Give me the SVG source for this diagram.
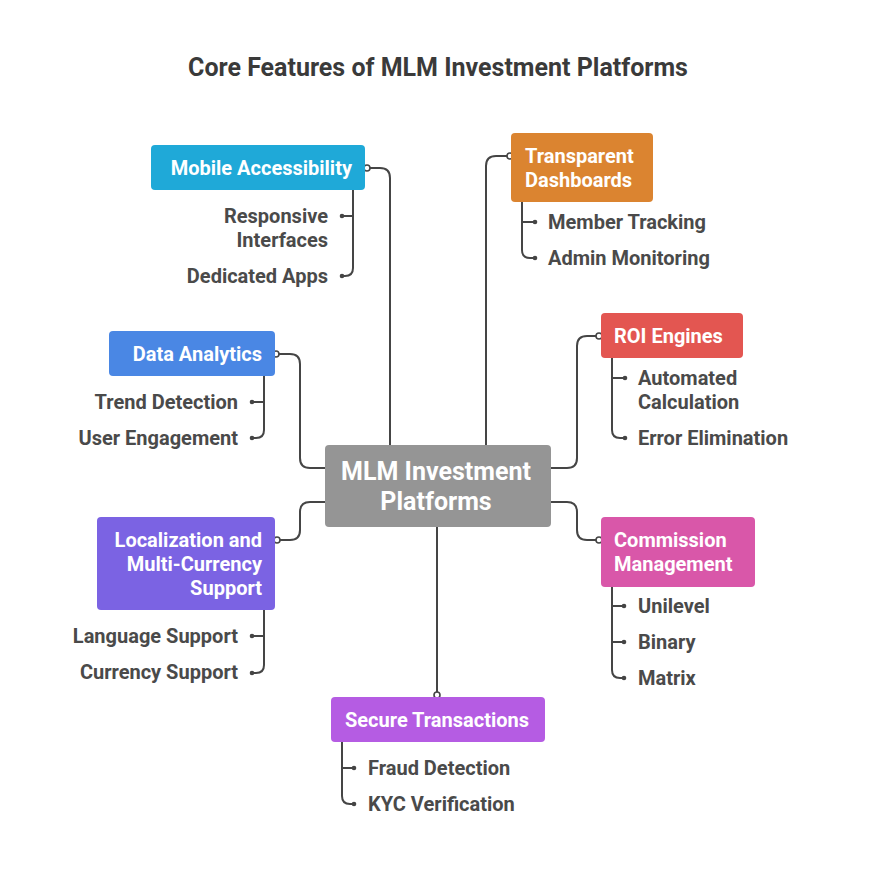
<svg xmlns="http://www.w3.org/2000/svg" width="876" height="894" viewBox="0 0 876 894">
<style>
.t{font-family:Roboto,"Liberation Sans",sans-serif;font-weight:700}
.title{font-size:25px;fill:#3a3a3a}
.nt{font-size:20px;fill:#ffffff}
.ct{font-size:25px;fill:#ffffff}
.ch{font-size:20px;fill:#4a4a4a}
.ln{fill:none;stroke:#454545;stroke-width:2}
.hd{fill:#ffffff;stroke:#454545;stroke-width:1.6}
.fd{fill:#454545}
</style>
<rect width="876" height="894" fill="#ffffff"/>
<text class="t title" x="438" y="76" text-anchor="middle">Core Features of MLM Investment Platforms</text>

<g id="connectors">
<path class="ln" d="M367,168 H380 Q390,168 390,178 V445"/>
<path class="ln" d="M510,156 H496 Q486,156 486,166 V445"/>
<path class="ln" d="M276,354 H290 Q300,354 300,364 V458 Q300,468 310,468 H325"/>
<path class="ln" d="M599,336 H587 Q577,336 577,346 V458 Q577,468 567,468 H551"/>
<path class="ln" d="M277,540 H290 Q300,540 300,530 V512 Q300,502 310,502 H325"/>
<path class="ln" d="M599,540 H587 Q577,540 577,530 V512 Q577,502 567,502 H551"/>
<path class="ln" d="M437,527 V695"/>
<circle class="hd" cx="367" cy="168" r="3"/>
<circle class="hd" cx="510" cy="156" r="3"/>
<circle class="hd" cx="276" cy="354" r="3"/>
<circle class="hd" cx="599" cy="336" r="3"/>
<circle class="hd" cx="277" cy="540" r="3"/>
<circle class="hd" cx="599" cy="540" r="3"/>
<circle class="hd" cx="437" cy="695" r="3"/>
<path class="ln" d="M353,190 V268 Q353,276 345,276 H342 M353,216 H342"/>
<circle class="fd" cx="342" cy="216" r="2.3"/><circle class="fd" cx="342" cy="276" r="2.3"/>
<path class="ln" d="M522,202 V250 Q522,258 530,258 H535 M522,222 H535"/>
<circle class="fd" cx="535" cy="222" r="2.3"/><circle class="fd" cx="535" cy="258" r="2.3"/>
<path class="ln" d="M264,376 V430 Q264,438 256,438 H252 M264,402 H252"/>
<circle class="fd" cx="252" cy="402" r="2.3"/><circle class="fd" cx="252" cy="438" r="2.3"/>
<path class="ln" d="M612,358 V430 Q612,438 620,438 H625 M612,378 H625"/>
<circle class="fd" cx="625" cy="378" r="2.3"/><circle class="fd" cx="625" cy="438" r="2.3"/>
<path class="ln" d="M264,610 V665 Q264,673 256,673 H252 M264,636 H252"/>
<circle class="fd" cx="252" cy="636" r="2.3"/><circle class="fd" cx="252" cy="673" r="2.3"/>
<path class="ln" d="M612,587 V670 Q612,678 620,678 H624 M612,606 H624 M612,642 H624"/>
<circle class="fd" cx="624" cy="606" r="2.3"/><circle class="fd" cx="624" cy="642" r="2.3"/><circle class="fd" cx="624" cy="678" r="2.3"/>
<path class="ln" d="M342,742 V796 Q342,804 350,804 H354 M342,768 H354"/>
<circle class="fd" cx="354" cy="768" r="2.3"/><circle class="fd" cx="354" cy="804" r="2.3"/>
</g>

<g id="center">
<rect x="325" y="445" width="226" height="82" rx="4" fill="#959595"/>
<text class="t ct" x="436" y="480" text-anchor="middle">MLM Investment</text>
<text class="t ct" x="436" y="510" text-anchor="middle">Platforms</text>
</g>

<g id="mobile">
<rect x="151" y="145" width="214" height="45" rx="4" fill="#1fa9d8"/>
<text class="t nt" x="352" y="175" text-anchor="end">Mobile Accessibility</text>
<text class="t ch" x="328" y="223" text-anchor="end">Responsive</text>
<text class="t ch" x="328" y="247" text-anchor="end">Interfaces</text>
<text class="t ch" x="328" y="283" text-anchor="end">Dedicated Apps</text>
</g>

<g id="dashboards">
<rect x="511" y="133" width="142" height="69" rx="4" fill="#db8430"/>
<text class="t nt" x="525" y="163">Transparent</text>
<text class="t nt" x="525" y="187">Dashboards</text>
<text class="t ch" x="548" y="229">Member Tracking</text>
<text class="t ch" x="548" y="265">Admin Monitoring</text>
</g>

<g id="analytics">
<rect x="109" y="331" width="166" height="45" rx="4" fill="#4a87e4"/>
<text class="t nt" x="262" y="361" text-anchor="end">Data Analytics</text>
<text class="t ch" x="238" y="409" text-anchor="end">Trend Detection</text>
<text class="t ch" x="238" y="445" text-anchor="end">User Engagement</text>
</g>

<g id="roi">
<rect x="601" y="313" width="142" height="45" rx="4" fill="#e35651"/>
<text class="t nt" x="614" y="343">ROI Engines</text>
<text class="t ch" x="638" y="385">Automated</text>
<text class="t ch" x="638" y="409">Calculation</text>
<text class="t ch" x="638" y="445">Error Elimination</text>
</g>

<g id="localization">
<rect x="97" y="517" width="178" height="93" rx="4" fill="#7b63e3"/>
<text class="t nt" x="262" y="547" text-anchor="end">Localization and</text>
<text class="t nt" x="262" y="571" text-anchor="end">Multi-Currency</text>
<text class="t nt" x="262" y="595" text-anchor="end">Support</text>
<text class="t ch" x="238" y="643" text-anchor="end">Language Support</text>
<text class="t ch" x="238" y="679" text-anchor="end">Currency Support</text>
</g>

<g id="commission">
<rect x="601" y="517" width="154" height="70" rx="4" fill="#d957a9"/>
<text class="t nt" x="614" y="547">Commission</text>
<text class="t nt" x="614" y="571">Management</text>
<text class="t ch" x="638" y="613">Unilevel</text>
<text class="t ch" x="638" y="649">Binary</text>
<text class="t ch" x="638" y="685">Matrix</text>
</g>

<g id="secure">
<rect x="331" y="697" width="214" height="45" rx="4" fill="#b55ce3"/>
<text class="t nt" x="437" y="727" text-anchor="middle">Secure Transactions</text>
<text class="t ch" x="368" y="775">Fraud Detection</text>
<text class="t ch" x="368" y="811">KYC Verification</text>
</g>
</svg>
